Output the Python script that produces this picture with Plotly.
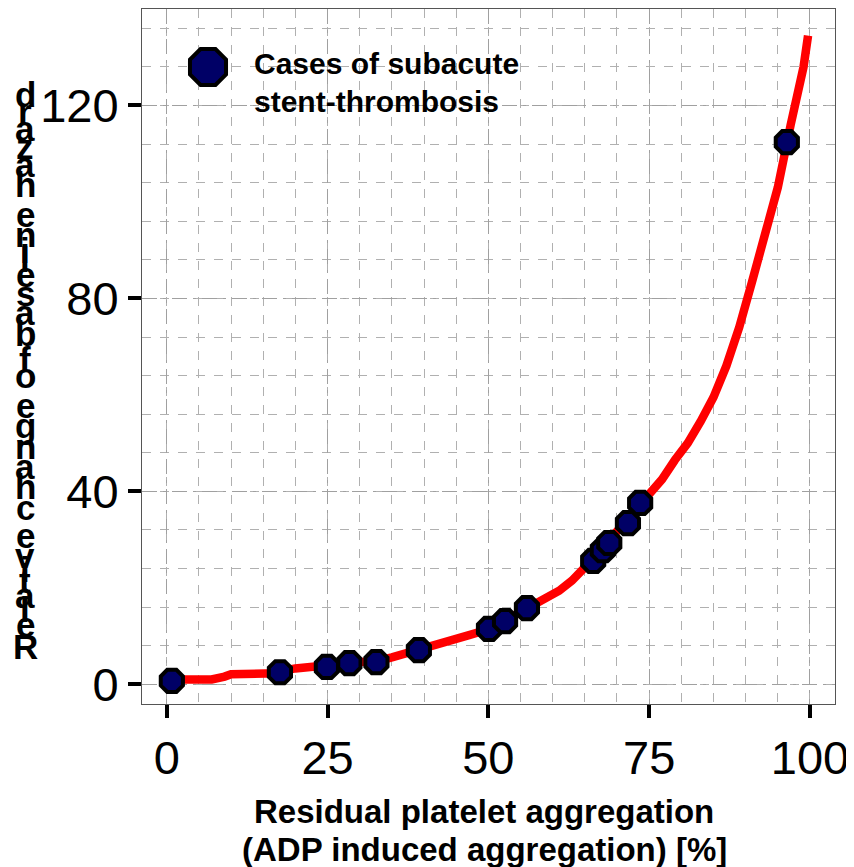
import plotly.graph_objects as go

# ---- data ----
x_curve = [1, 7, 9, 10, 17, 18, 20, 23, 25, 27, 29, 31, 33, 35, 37, 39, 41, 43, 45, 47,
           49, 51, 53, 55, 57, 59, 61, 63, 65, 67, 69, 71, 73, 75, 77, 79, 81, 83, 85, 87,
           89, 91, 93, 95, 97, 99, 99.7]
y_curve = [1.0, 1.0, 1.6, 2.1, 2.3, 2.8, 3.3, 3.5, 3.7, 4.2, 4.5, 4.7, 4.9, 5.6, 6.3, 7.1,
           7.9, 8.6, 9.3, 10.2, 11.0, 12.1, 13.5, 15.0, 16.5, 17.5, 19.4, 21.5, 24.0, 27.0,
           30.2, 33.4, 36.6, 39.5, 42.5, 46.5, 50.0, 54.5, 59.5, 66.0, 74.0, 83.5, 92.5,
           103.0, 116.0, 128.0, 134.5]

x_cases = [0.8, 17.6, 24.9, 28.4, 32.6, 39.2, 50.1, 52.6, 56.0, 66.3, 67.8, 68.8, 71.7, 73.6, 96.4]
y_cases = [0.7, 2.5, 3.6, 4.4, 4.6, 7.1, 11.5, 13.1, 15.8, 25.6, 27.8, 29.3, 33.4, 37.6, 112.4]

x_ticks = [0, 25, 50, 75, 100]
y_ticks = [0, 40, 80, 120]

legend_lines = ["Cases of subacute", "stent-thrombosis"]
x_title_lines = ["Residual platelet aggregation", "(ADP induced aggregation) [%]"]
y_title = "Relative change of baseline hazard"

# ---- layout geometry (page has an 8px body margin) ----
OFF = 8
W, H = 854, 867
L, R, T, B = 134, 27, 1, 171
PW, PH = W - L - R, H - T - B


def px2paper_x(px):
    return (px - OFF - L) / PW


def px2paper_y(py):
    return (H - B - (py - OFF)) / PH


FONT = "Liberation Sans, Arial"

fig = go.Figure()

fig.add_trace(go.Scatter(
    x=x_curve, y=y_curve, mode="lines",
    line=dict(color="#ff0000", width=8.5),
    showlegend=False, hoverinfo="skip",
))
fig.add_trace(go.Scatter(
    x=x_cases, y=y_cases, mode="markers",
    marker=dict(symbol="octagon", size=24, color="#000066",
                line=dict(color="black", width=4)),
    showlegend=False,
))
# legend marker on an overlay axis matching the paper
fig.add_trace(go.Scatter(
    x=[px2paper_x(208)], y=[px2paper_y(67)], mode="markers",
    xaxis="x2", yaxis="y2",
    marker=dict(symbol="octagon", size=39, color="#000066",
                line=dict(color="black", width=4)),
    showlegend=False, hoverinfo="skip",
))

grid_major = dict(showgrid=True, gridcolor="#a0a0a0", gridwidth=1, griddash="longdashdot")

fig.update_layout(
    width=W, height=H,
    margin=dict(l=L, r=R, t=T, b=B, autoexpand=False),
    paper_bgcolor="white", plot_bgcolor="white",
    showlegend=False,
    xaxis=dict(
        range=[-3.84, 103.89], tickmode="array", tickvals=x_ticks,
        ticktext=[str(v) for v in x_ticks], automargin=False,
        ticks="outside", ticklen=13, tickwidth=4, tickcolor="black",
        tickfont=dict(family=FONT, size=47, color="black"),
        showline=True, linecolor="#555555", linewidth=1, mirror=True,
        zeroline=False, **grid_major,
        minor=dict(dtick=5, tick0=0, showgrid=True, gridcolor="#b0b0b0",
                   gridwidth=1, griddash="dash", ticks=""),
    ),
    yaxis=dict(
        range=[-4.08, 140.0], tickmode="array", tickvals=y_ticks,
        ticktext=[str(v) for v in y_ticks], automargin=False,
        ticks="outside", ticklen=13, tickwidth=4, tickcolor="black",
        tickfont=dict(family=FONT, size=47, color="black"),
        showline=True, linecolor="#555555", linewidth=1, mirror=True,
        zeroline=False, **grid_major,
        minor=dict(dtick=8, tick0=0, showgrid=True, gridcolor="#b0b0b0",
                   gridwidth=1, griddash="dash", ticks=""),
    ),
    xaxis2=dict(overlaying="x", range=[0, 1], visible=False, fixedrange=True),
    yaxis2=dict(overlaying="y", range=[0, 1], visible=False, fixedrange=True),
)

# white legend box covering gridlines
fig.add_shape(type="rect", xref="paper", yref="paper",
              x0=px2paper_x(240), x1=px2paper_x(562),
              y0=px2paper_y(128), y1=px2paper_y(45),
              fillcolor="white", line=dict(width=0), layer="between")

annotations = []
for line, cy in zip(legend_lines, [64, 101]):
    annotations.append(dict(
        text="<b>" + line + "</b>", xref="paper", yref="paper",
        x=px2paper_x(252), y=px2paper_y(cy), xanchor="left", yanchor="middle",
        align="left", showarrow=False,
        font=dict(family=FONT, size=30, color="black"),
    ))
for line, cy in zip(x_title_lines, [811, 849]):
    annotations.append(dict(
        text="<b>" + line + "</b>", xref="paper", yref="paper",
        x=px2paper_x(484), y=px2paper_y(cy), xanchor="center", yanchor="middle",
        align="center", showarrow=False,
        font=dict(family=FONT, size=33, color="black"),
    ))

# y title: upright letters stacked bottom-to-top along the rotated baseline
adv = {"R": 722, "e": 556, "l": 278, "a": 556, "t": 333, "i": 278, "v": 556, " ": 278,
       "c": 556, "h": 611, "n": 611, "g": 611, "o": 611, "f": 333, "b": 611, "s": 556,
       "z": 500, "r": 389, "d": 611}
total = sum(adv[c] for c in y_title)
bottom_px, top_px = 657, 82
k = (bottom_px - top_px) / total
cum = 0
for ch in y_title:
    w = adv[ch]
    if ch != " ":
        cy = bottom_px - (cum + w / 2) * k
        annotations.append(dict(
            text="<b>" + ch + "</b>", xref="paper", yref="paper",
            x=px2paper_x(25), y=px2paper_y(cy + 2), xanchor="center", yanchor="middle",
            showarrow=False,
            font=dict(family=FONT, size=35, color="black"),
        ))
    cum += w

fig.update_layout(annotations=annotations)

fig.write_html("out.html")
